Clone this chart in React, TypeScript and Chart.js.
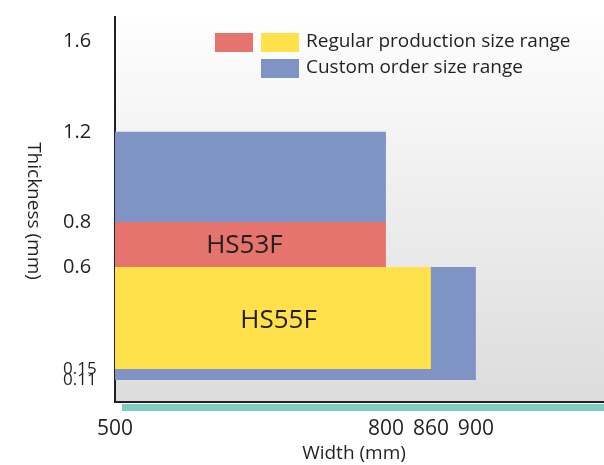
import React, { useEffect, useRef } from "react";
import { Chart, registerables, LinearScale } from "chart.js";

Chart.register(...registerables);

// ---- Data ----
const widthStart = 500;
const xTickValues = [500, 800, 860, 900];
const yTickValues = [0.11, 0.15, 0.6, 0.8, 1.2, 1.6];

// Regular production size ranges
const regularNames = ["HS53F", "HS55F"];
const regularMaxWidth = [800, 860];
const regularMinThickness = [0.6, 0.15];
const regularMaxThickness = [0.8, 0.6];
const regularColors = ["#e5736e", "#ffe14c"];

// Custom order size ranges
const customMaxWidth = [800, 900];
const customMinThickness = [0.8, 0.11];
const customMaxThickness = [1.2, 0.6];
const customColor = "#7f93c4";

const legendRegularLabel = "Regular production size range";
const legendCustomLabel = "Custom order size range";
const xTitle = "Width (mm)";
const yTitle = "Thickness (mm)";

const FONT = "'Open Sans', sans-serif";
const TEXT = "#231f20";

// Schematic (piecewise-linear) axes, as in the original drawing
class PiecewiseScale extends (LinearScale as any) {
  static id = "piecewise";
  static defaults = { ...(LinearScale as any).defaults };
  _knots(): number[][] {
    return (this as any).options.knots || [
      [(this as any).min, 0],
      [(this as any).max, 1],
    ];
  }
  getPixelForValue(value: number) {
    const k = this._knots();
    let i = 0;
    while (i < k.length - 2 && value > k[i + 1][0]) i++;
    const f = k[i][1] + ((value - k[i][0]) / (k[i + 1][0] - k[i][0])) * (k[i + 1][1] - k[i][1]);
    return (this as any).getPixelForDecimal(f);
  }
  getValueForPixel(pixel: number) {
    const k = this._knots();
    const f = (this as any).getDecimalForPixel(pixel);
    let i = 0;
    while (i < k.length - 2 && f > k[i + 1][1]) i++;
    return k[i][0] + ((f - k[i][1]) / (k[i + 1][1] - k[i][1])) * (k[i + 1][0] - k[i][0]);
  }
}
Chart.register(PiecewiseScale as any);

function rectDatasets(maxW: number, minT: number, maxT: number, color: string, order: number) {
  const common = {
    borderColor: "transparent",
    borderWidth: 0,
    pointRadius: 0,
    tension: 0,
    order,
  };
  return [
    {
      ...common,
      data: [
        { x: widthStart, y: maxT },
        { x: maxW, y: maxT },
      ],
      fill: "+1",
      backgroundColor: color,
    },
    {
      ...common,
      data: [
        { x: widthStart, y: minT },
        { x: maxW, y: minT },
      ],
      fill: false,
      backgroundColor: "transparent",
    },
  ];
}

const decorPlugin = {
  id: "decor",
  beforeDraw(chart: any) {
    const { ctx, chartArea } = chart;
    const g = ctx.createLinearGradient(0, chartArea.top, 0, chartArea.bottom);
    g.addColorStop(0, "#fefefe");
    g.addColorStop(1, "#dcdcdc");
    ctx.save();
    ctx.fillStyle = g;
    ctx.fillRect(chartArea.left, chartArea.top, chartArea.right - chartArea.left, chartArea.bottom - chartArea.top);
    ctx.restore();
  },
  afterDatasetsDraw(chart: any) {
    const { ctx, scales } = chart;
    const xs = scales.x;
    const ys = scales.y;
    ctx.save();
    ctx.fillStyle = TEXT;
    ctx.font = `26px ${FONT}`;
    ctx.textAlign = "center";
    ctx.textBaseline = "middle";
    regularNames.forEach((name, i) => {
      const cx = xs.getPixelForValue((widthStart + regularMaxWidth[i]) / 2);
      const cy = ys.getPixelForValue((regularMinThickness[i] + regularMaxThickness[i]) / 2);
      ctx.fillText(name, i === 0 ? cx - 6 : cx + 1, i === 0 ? cy + 1 : cy + 3);
    });
    ctx.restore();
  },
  afterDraw(chart: any) {
    const { ctx, chartArea } = chart;
    ctx.save();
    // teal strip under the x axis
    ctx.fillStyle = "#7fcdbf";
    ctx.fillRect(chartArea.left + 7, chartArea.bottom + 2, chartArea.right - chartArea.left - 7, 7);

    // legend
    ctx.fillStyle = regularColors[0];
    ctx.fillRect(215, 33, 38, 19);
    ctx.fillStyle = regularColors[1];
    ctx.fillRect(261, 33, 38, 19);
    ctx.fillStyle = customColor;
    ctx.fillRect(261, 59, 38, 19);
    ctx.fillStyle = TEXT;
    ctx.font = `19px ${FONT}`;
    ctx.textAlign = "left";
    ctx.textBaseline = "middle";
    ctx.fillText(legendRegularLabel, 306, 42);
    ctx.fillText(legendCustomLabel, 306, 68);

    // axis titles
    ctx.font = `19px ${FONT}`;
    ctx.textAlign = "center";
    ctx.fillText(xTitle, 354, 454);
    ctx.translate(33, 211);
    ctx.rotate(Math.PI / 2);
    ctx.fillText(yTitle, 0, 0);
    ctx.restore();
  },
};

export default function App() {
  const ref = useRef<HTMLCanvasElement | null>(null);
  useEffect(() => {
    if (!ref.current) return;
    const datasets: any[] = [];
    regularNames.forEach((_, i) => {
      datasets.push(...rectDatasets(regularMaxWidth[i], regularMinThickness[i], regularMaxThickness[i], regularColors[i], 1));
    });
    customMaxWidth.forEach((w, i) => {
      datasets.push(...rectDatasets(w, customMinThickness[i], customMaxThickness[i], customColor, 2));
    });
    const chart = new Chart(ref.current, {
      type: "line",
      data: { datasets },
      options: {
        responsive: false,
        animation: false,
        layout: { padding: { left: 63, top: 17, right: 0, bottom: 0 } },
        plugins: { legend: { display: false }, tooltip: { enabled: false } },
        scales: {
          x: {
            type: "piecewise",
            min: 500,
            max: 1043,
            knots: [
              [500, 0],
              [800, 0.554],
              [860, 0.646],
              [900, 0.738],
              [1043, 1],
            ],
            afterBuildTicks: (s: any) => {
              s.ticks = xTickValues.map((v) => ({ value: v }));
            },
            afterFit: (s: any) => {
              s.height = 63;
            },
            grid: { display: false, drawTicks: false },
            border: { display: true, color: TEXT, width: 2 },
            ticks: {
              autoSkip: false,
              maxRotation: 0,
              padding: 14,
              color: TEXT,
              font: { family: FONT, size: 21 },
              callback: (v: any) => String(v),
            },
          },
          y: {
            type: "piecewise",
            min: 0,
            max: 1.71,
            knots: [
              [0, 0],
              [0.11, 0.057],
              [0.15, 0.0857],
              [0.6, 0.3506],
              [1.71, 1],
            ],
            afterBuildTicks: (s: any) => {
              s.ticks = yTickValues.map((v) => ({ value: v }));
            },
            afterFit: (s: any) => {
              s.width = 52;
            },
            grid: { display: false, drawTicks: false },
            border: { display: true, color: TEXT, width: 2 },
            ticks: {
              autoSkip: false,
              crossAlign: "far",
              color: TEXT,
              font: (c: any) => ({ family: FONT, size: c.tick && c.tick.value < 0.5 ? 17 : 20 }),
              callback: (v: any) => String(v),
            },
          },
        },
      },
      plugins: [decorPlugin],
    } as any);
    return () => chart.destroy();
  }, []);
  return (
    <div style={{ position: "absolute", left: 0, top: 0, width: 604, height: 465 }}>
      <canvas ref={ref} width={604} height={465} style={{ display: "block" }} />
    </div>
  );
}
